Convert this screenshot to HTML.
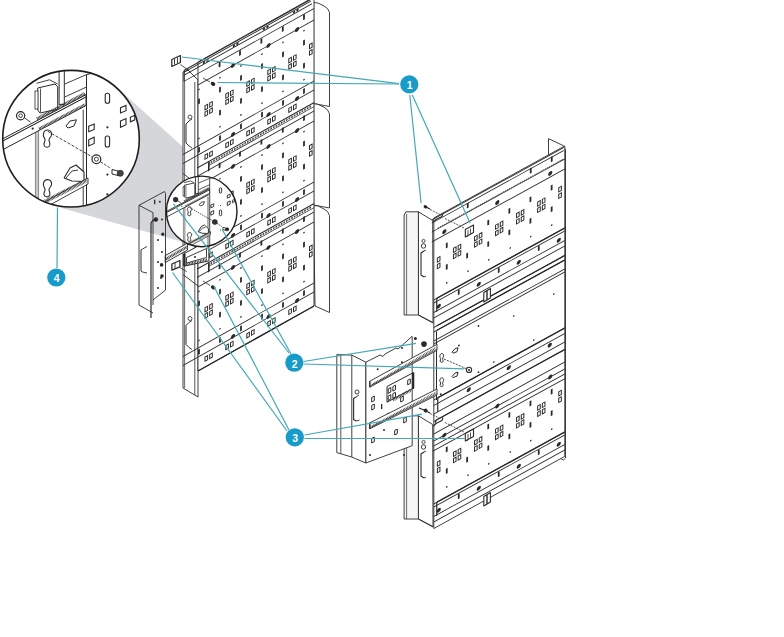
<!DOCTYPE html>
<html><head><meta charset="utf-8"><style>
html,body{margin:0;padding:0;background:#fff;}
body{width:784px;height:637px;overflow:hidden;}
svg{display:block;}
</style></head><body>
<svg width="784" height="637" viewBox="0 0 784 637">
<polygon points="117.1,87.7 225.4,185.0 192.6,244.7 52.4,205.4" fill="#d5d6da" stroke="none" stroke-width="0.9" stroke-linejoin="round" />
<polygon points="183.0,72.0 188.0,70.0 198.0,80.0 198.0,397.0 183.0,388.0" fill="#fff" stroke="#2a2a2a" stroke-width="0.9" stroke-linejoin="round" />
<line x1="194.8" y1="82.0" x2="194.8" y2="395.0" stroke="#2a2a2a" stroke-width="0.8" />
<line x1="184.6" y1="71.0" x2="184.6" y2="388.0" stroke="#2a2a2a" stroke-width="0.7" />
<line x1="183.0" y1="173.5" x2="198.0" y2="185.0" stroke="#2a2a2a" stroke-width="0.9" />
<line x1="183.0" y1="274.5" x2="198.0" y2="286.0" stroke="#2a2a2a" stroke-width="0.9" />
<polygon points="313.5,2.5 318.0,3.0 324.0,6.0 327.5,8.5 329.5,12.5 329.5,106.5 313.5,103.5" fill="#fff" stroke="#2a2a2a" stroke-width="0.9" stroke-linejoin="round" />
<polygon points="313.5,103.8 318.0,104.3 324.0,107.3 327.5,109.8 329.5,113.8 329.5,208.0 313.5,205.0" fill="#fff" stroke="#2a2a2a" stroke-width="0.9" stroke-linejoin="round" />
<polygon points="313.5,205.5 318.0,206.0 324.0,209.0 327.5,211.5 329.5,215.5 329.5,312.5 315.0,306.0" fill="#fff" stroke="#2a2a2a" stroke-width="0.9" stroke-linejoin="round" />
<line x1="313.5" y1="2.5" x2="313.5" y2="306.0" stroke="#2a2a2a" stroke-width="1.3" />
<polygon points="198.0,62.0 314.0,-3.0 314.0,306.0 198.0,371.0" fill="#fff" stroke="#2a2a2a" stroke-width="0.9" stroke-linejoin="round" />
<g transform="matrix(1,-0.5600,0,1,198.00,0)">
<line x1="-14.0" y1="62.5" x2="112.0" y2="62.5" stroke="#2a2a2a" stroke-width="1.2"/>
<line x1="-14.0" y1="64.3" x2="113.0" y2="64.3" stroke="#2a2a2a" stroke-width="1.0"/>
<line x1="-14.0" y1="67.5" x2="114.0" y2="67.5" stroke="#2a2a2a" stroke-width="1.0"/>
<line x1="-14.0" y1="73.5" x2="116.0" y2="73.5" stroke="#2a2a2a" stroke-width="0.9"/>
<polyline points="-14.0,62.5 -14.0,73.5" stroke="#2a2a2a" stroke-width="0.9" fill="none"/>
<circle cx="6.0" cy="65.9" r="1.2" fill="#2a2a2a"/>
<circle cx="9.5" cy="65.9" r="1.2" fill="#2a2a2a"/>
<circle cx="36.0" cy="65.9" r="1.2" fill="#2a2a2a"/>
<circle cx="39.5" cy="65.9" r="1.2" fill="#2a2a2a"/>
<circle cx="66.0" cy="65.9" r="1.2" fill="#2a2a2a"/>
<circle cx="69.5" cy="65.9" r="1.2" fill="#2a2a2a"/>
<circle cx="96.0" cy="65.9" r="1.2" fill="#2a2a2a"/>
<circle cx="99.5" cy="65.9" r="1.2" fill="#2a2a2a"/>
<rect x="20.7" y="73.9" width="1.8" height="5.2" fill="#2a2a2a"/>
<rect x="41.1" y="73.9" width="1.8" height="5.2" fill="#2a2a2a"/>
<rect x="62.5" y="73.9" width="1.8" height="5.2" fill="#2a2a2a"/>
<rect x="83.9" y="73.9" width="1.8" height="5.2" fill="#2a2a2a"/>
<rect x="105.1" y="73.9" width="1.8" height="5.2" fill="#2a2a2a"/>
<line x1="0.0" y1="85.0" x2="116.0" y2="85.0" stroke="#2a2a2a" stroke-width="0.95"/>
<circle cx="35.0" cy="85.0" r="2.1" fill="#2a2a2a"/>
<circle cx="70.5" cy="85.0" r="2.1" fill="#2a2a2a"/>
<circle cx="99.0" cy="85.0" r="2.1" fill="#2a2a2a"/>
<circle cx="1.0" cy="90.0" r="0.8" fill="#2a2a2a"/>
<circle cx="1.0" cy="139.0" r="0.8" fill="#2a2a2a"/>
<circle cx="22.0" cy="90.0" r="0.8" fill="#2a2a2a"/>
<circle cx="22.0" cy="139.0" r="0.8" fill="#2a2a2a"/>
<circle cx="43.0" cy="90.0" r="0.8" fill="#2a2a2a"/>
<circle cx="43.0" cy="139.0" r="0.8" fill="#2a2a2a"/>
<circle cx="64.0" cy="90.0" r="0.8" fill="#2a2a2a"/>
<circle cx="64.0" cy="139.0" r="0.8" fill="#2a2a2a"/>
<circle cx="85.0" cy="90.0" r="0.8" fill="#2a2a2a"/>
<circle cx="85.0" cy="139.0" r="0.8" fill="#2a2a2a"/>
<circle cx="106.0" cy="90.0" r="0.8" fill="#2a2a2a"/>
<circle cx="106.0" cy="139.0" r="0.8" fill="#2a2a2a"/>
<rect x="0.1" y="99.4" width="1.8" height="5.2" fill="#2a2a2a"/>
<rect x="21.1" y="99.4" width="1.8" height="5.2" fill="#2a2a2a"/>
<rect x="42.1" y="99.4" width="1.8" height="5.2" fill="#2a2a2a"/>
<rect x="63.1" y="99.4" width="1.8" height="5.2" fill="#2a2a2a"/>
<rect x="84.1" y="99.4" width="1.8" height="5.2" fill="#2a2a2a"/>
<rect x="105.1" y="99.4" width="1.8" height="5.2" fill="#2a2a2a"/>
<rect x="7.0" y="109.6" width="2.6" height="4.2" fill="none" stroke="#2a2a2a" stroke-width="1.0"/>
<rect x="7.0" y="115.9" width="2.6" height="4.2" fill="none" stroke="#2a2a2a" stroke-width="1.0"/>
<rect x="11.7" y="109.6" width="2.6" height="4.2" fill="none" stroke="#2a2a2a" stroke-width="1.0"/>
<rect x="11.7" y="115.9" width="2.6" height="4.2" fill="none" stroke="#2a2a2a" stroke-width="1.0"/>
<rect x="27.8" y="109.6" width="2.6" height="4.2" fill="none" stroke="#2a2a2a" stroke-width="1.0"/>
<rect x="27.8" y="115.9" width="2.6" height="4.2" fill="none" stroke="#2a2a2a" stroke-width="1.0"/>
<rect x="32.5" y="109.6" width="2.6" height="4.2" fill="none" stroke="#2a2a2a" stroke-width="1.0"/>
<rect x="32.5" y="115.9" width="2.6" height="4.2" fill="none" stroke="#2a2a2a" stroke-width="1.0"/>
<rect x="48.8" y="109.6" width="2.6" height="4.2" fill="none" stroke="#2a2a2a" stroke-width="1.0"/>
<rect x="48.8" y="115.9" width="2.6" height="4.2" fill="none" stroke="#2a2a2a" stroke-width="1.0"/>
<rect x="53.5" y="109.6" width="2.6" height="4.2" fill="none" stroke="#2a2a2a" stroke-width="1.0"/>
<rect x="53.5" y="115.9" width="2.6" height="4.2" fill="none" stroke="#2a2a2a" stroke-width="1.0"/>
<rect x="69.8" y="109.6" width="2.6" height="4.2" fill="none" stroke="#2a2a2a" stroke-width="1.0"/>
<rect x="69.8" y="115.9" width="2.6" height="4.2" fill="none" stroke="#2a2a2a" stroke-width="1.0"/>
<rect x="74.5" y="109.6" width="2.6" height="4.2" fill="none" stroke="#2a2a2a" stroke-width="1.0"/>
<rect x="74.5" y="115.9" width="2.6" height="4.2" fill="none" stroke="#2a2a2a" stroke-width="1.0"/>
<rect x="90.8" y="109.6" width="2.6" height="4.2" fill="none" stroke="#2a2a2a" stroke-width="1.0"/>
<rect x="90.8" y="115.9" width="2.6" height="4.2" fill="none" stroke="#2a2a2a" stroke-width="1.0"/>
<rect x="95.5" y="109.6" width="2.6" height="4.2" fill="none" stroke="#2a2a2a" stroke-width="1.0"/>
<rect x="95.5" y="115.9" width="2.6" height="4.2" fill="none" stroke="#2a2a2a" stroke-width="1.0"/>
<rect x="111.5" y="107.0" width="2.6" height="4.2" fill="none" stroke="#2a2a2a" stroke-width="1.0"/>
<rect x="111.5" y="113.5" width="2.6" height="4.2" fill="none" stroke="#2a2a2a" stroke-width="1.0"/>
<rect x="21.1" y="122.4" width="1.8" height="5.2" fill="#2a2a2a"/>
<rect x="42.1" y="122.4" width="1.8" height="5.2" fill="#2a2a2a"/>
<rect x="63.1" y="122.4" width="1.8" height="5.2" fill="#2a2a2a"/>
<rect x="84.1" y="122.4" width="1.8" height="5.2" fill="#2a2a2a"/>
<rect x="105.1" y="122.4" width="1.8" height="5.2" fill="#2a2a2a"/>
<line x1="-15.0" y1="146.0" x2="116.0" y2="146.0" stroke="#2a2a2a" stroke-width="0.95"/>
<line x1="-15.0" y1="155.0" x2="116.0" y2="155.0" stroke="#2a2a2a" stroke-width="0.95"/>
<circle cx="35.0" cy="154.0" r="2.1" fill="#2a2a2a"/>
<circle cx="70.5" cy="154.0" r="2.1" fill="#2a2a2a"/>
<circle cx="99.0" cy="154.0" r="2.1" fill="#2a2a2a"/>
<rect x="7.0" y="159.0" width="2.6" height="4.2" fill="none" stroke="#2a2a2a" stroke-width="1.0"/>
<rect x="11.7" y="159.0" width="2.6" height="4.2" fill="none" stroke="#2a2a2a" stroke-width="1.0"/>
<rect x="27.8" y="159.0" width="2.6" height="4.2" fill="none" stroke="#2a2a2a" stroke-width="1.0"/>
<rect x="32.5" y="159.0" width="2.6" height="4.2" fill="none" stroke="#2a2a2a" stroke-width="1.0"/>
<rect x="48.8" y="159.0" width="2.6" height="4.2" fill="none" stroke="#2a2a2a" stroke-width="1.0"/>
<rect x="53.5" y="159.0" width="2.6" height="4.2" fill="none" stroke="#2a2a2a" stroke-width="1.0"/>
<rect x="69.8" y="159.0" width="2.6" height="4.2" fill="none" stroke="#2a2a2a" stroke-width="1.0"/>
<rect x="74.5" y="159.0" width="2.6" height="4.2" fill="none" stroke="#2a2a2a" stroke-width="1.0"/>
<rect x="90.8" y="159.0" width="2.6" height="4.2" fill="none" stroke="#2a2a2a" stroke-width="1.0"/>
<rect x="95.5" y="159.0" width="2.6" height="4.2" fill="none" stroke="#2a2a2a" stroke-width="1.0"/>
<rect x="0.1" y="147.9" width="1.8" height="5.2" fill="#2a2a2a"/>
<rect x="21.1" y="147.9" width="1.8" height="5.2" fill="#2a2a2a"/>
<rect x="42.1" y="147.9" width="1.8" height="5.2" fill="#2a2a2a"/>
<rect x="63.1" y="147.9" width="1.8" height="5.2" fill="#2a2a2a"/>
<rect x="84.1" y="147.9" width="1.8" height="5.2" fill="#2a2a2a"/>
<rect x="105.1" y="147.9" width="1.8" height="5.2" fill="#2a2a2a"/>
<line x1="-1.0" y1="167.5" x2="116.0" y2="167.5" stroke="#2a2a2a" stroke-width="1.2"/>
<line x1="10.0" y1="171.5" x2="116.0" y2="171.5" stroke="#2a2a2a" stroke-width="0.8"/>
<line x1="10" y1="169.6" x2="114" y2="169.6" stroke="#444" stroke-width="1.8" stroke-dasharray="1.6,1.0"/>
<line x1="-1.0" y1="176.0" x2="116.0" y2="176.0" stroke="#2a2a2a" stroke-width="1.0"/>
<rect x="10.0" y="168.0" width="1.6" height="9.0" fill="#2a2a2a"/>
<rect x="20.7" y="174.9" width="1.8" height="5.2" fill="#2a2a2a"/>
<rect x="41.1" y="174.9" width="1.8" height="5.2" fill="#2a2a2a"/>
<rect x="62.5" y="174.9" width="1.8" height="5.2" fill="#2a2a2a"/>
<rect x="83.9" y="174.9" width="1.8" height="5.2" fill="#2a2a2a"/>
<rect x="105.1" y="174.9" width="1.8" height="5.2" fill="#2a2a2a"/>
<line x1="0.0" y1="186.0" x2="116.0" y2="186.0" stroke="#2a2a2a" stroke-width="0.95"/>
<circle cx="35.0" cy="186.0" r="2.1" fill="#2a2a2a"/>
<circle cx="70.5" cy="186.0" r="2.1" fill="#2a2a2a"/>
<circle cx="99.0" cy="186.0" r="2.1" fill="#2a2a2a"/>
<circle cx="1.0" cy="191.0" r="0.8" fill="#2a2a2a"/>
<circle cx="1.0" cy="240.0" r="0.8" fill="#2a2a2a"/>
<circle cx="22.0" cy="191.0" r="0.8" fill="#2a2a2a"/>
<circle cx="22.0" cy="240.0" r="0.8" fill="#2a2a2a"/>
<circle cx="43.0" cy="191.0" r="0.8" fill="#2a2a2a"/>
<circle cx="43.0" cy="240.0" r="0.8" fill="#2a2a2a"/>
<circle cx="64.0" cy="191.0" r="0.8" fill="#2a2a2a"/>
<circle cx="64.0" cy="240.0" r="0.8" fill="#2a2a2a"/>
<circle cx="85.0" cy="191.0" r="0.8" fill="#2a2a2a"/>
<circle cx="85.0" cy="240.0" r="0.8" fill="#2a2a2a"/>
<circle cx="106.0" cy="191.0" r="0.8" fill="#2a2a2a"/>
<circle cx="106.0" cy="240.0" r="0.8" fill="#2a2a2a"/>
<rect x="0.1" y="200.4" width="1.8" height="5.2" fill="#2a2a2a"/>
<rect x="21.1" y="200.4" width="1.8" height="5.2" fill="#2a2a2a"/>
<rect x="42.1" y="200.4" width="1.8" height="5.2" fill="#2a2a2a"/>
<rect x="63.1" y="200.4" width="1.8" height="5.2" fill="#2a2a2a"/>
<rect x="84.1" y="200.4" width="1.8" height="5.2" fill="#2a2a2a"/>
<rect x="105.1" y="200.4" width="1.8" height="5.2" fill="#2a2a2a"/>
<rect x="7.0" y="210.6" width="2.6" height="4.2" fill="none" stroke="#2a2a2a" stroke-width="1.0"/>
<rect x="7.0" y="216.9" width="2.6" height="4.2" fill="none" stroke="#2a2a2a" stroke-width="1.0"/>
<rect x="11.7" y="210.6" width="2.6" height="4.2" fill="none" stroke="#2a2a2a" stroke-width="1.0"/>
<rect x="11.7" y="216.9" width="2.6" height="4.2" fill="none" stroke="#2a2a2a" stroke-width="1.0"/>
<rect x="27.8" y="210.6" width="2.6" height="4.2" fill="none" stroke="#2a2a2a" stroke-width="1.0"/>
<rect x="27.8" y="216.9" width="2.6" height="4.2" fill="none" stroke="#2a2a2a" stroke-width="1.0"/>
<rect x="32.5" y="210.6" width="2.6" height="4.2" fill="none" stroke="#2a2a2a" stroke-width="1.0"/>
<rect x="32.5" y="216.9" width="2.6" height="4.2" fill="none" stroke="#2a2a2a" stroke-width="1.0"/>
<rect x="48.8" y="210.6" width="2.6" height="4.2" fill="none" stroke="#2a2a2a" stroke-width="1.0"/>
<rect x="48.8" y="216.9" width="2.6" height="4.2" fill="none" stroke="#2a2a2a" stroke-width="1.0"/>
<rect x="53.5" y="210.6" width="2.6" height="4.2" fill="none" stroke="#2a2a2a" stroke-width="1.0"/>
<rect x="53.5" y="216.9" width="2.6" height="4.2" fill="none" stroke="#2a2a2a" stroke-width="1.0"/>
<rect x="69.8" y="210.6" width="2.6" height="4.2" fill="none" stroke="#2a2a2a" stroke-width="1.0"/>
<rect x="69.8" y="216.9" width="2.6" height="4.2" fill="none" stroke="#2a2a2a" stroke-width="1.0"/>
<rect x="74.5" y="210.6" width="2.6" height="4.2" fill="none" stroke="#2a2a2a" stroke-width="1.0"/>
<rect x="74.5" y="216.9" width="2.6" height="4.2" fill="none" stroke="#2a2a2a" stroke-width="1.0"/>
<rect x="90.8" y="210.6" width="2.6" height="4.2" fill="none" stroke="#2a2a2a" stroke-width="1.0"/>
<rect x="90.8" y="216.9" width="2.6" height="4.2" fill="none" stroke="#2a2a2a" stroke-width="1.0"/>
<rect x="95.5" y="210.6" width="2.6" height="4.2" fill="none" stroke="#2a2a2a" stroke-width="1.0"/>
<rect x="95.5" y="216.9" width="2.6" height="4.2" fill="none" stroke="#2a2a2a" stroke-width="1.0"/>
<rect x="111.5" y="208.0" width="2.6" height="4.2" fill="none" stroke="#2a2a2a" stroke-width="1.0"/>
<rect x="111.5" y="214.5" width="2.6" height="4.2" fill="none" stroke="#2a2a2a" stroke-width="1.0"/>
<rect x="21.1" y="223.4" width="1.8" height="5.2" fill="#2a2a2a"/>
<rect x="42.1" y="223.4" width="1.8" height="5.2" fill="#2a2a2a"/>
<rect x="63.1" y="223.4" width="1.8" height="5.2" fill="#2a2a2a"/>
<rect x="84.1" y="223.4" width="1.8" height="5.2" fill="#2a2a2a"/>
<rect x="105.1" y="223.4" width="1.8" height="5.2" fill="#2a2a2a"/>
<line x1="-15.0" y1="247.0" x2="116.0" y2="247.0" stroke="#2a2a2a" stroke-width="0.95"/>
<line x1="-15.0" y1="256.0" x2="116.0" y2="256.0" stroke="#2a2a2a" stroke-width="0.95"/>
<circle cx="35.0" cy="255.0" r="2.1" fill="#2a2a2a"/>
<circle cx="70.5" cy="255.0" r="2.1" fill="#2a2a2a"/>
<circle cx="99.0" cy="255.0" r="2.1" fill="#2a2a2a"/>
<rect x="7.0" y="260.0" width="2.6" height="4.2" fill="none" stroke="#2a2a2a" stroke-width="1.0"/>
<rect x="11.7" y="260.0" width="2.6" height="4.2" fill="none" stroke="#2a2a2a" stroke-width="1.0"/>
<rect x="27.8" y="260.0" width="2.6" height="4.2" fill="none" stroke="#2a2a2a" stroke-width="1.0"/>
<rect x="32.5" y="260.0" width="2.6" height="4.2" fill="none" stroke="#2a2a2a" stroke-width="1.0"/>
<rect x="48.8" y="260.0" width="2.6" height="4.2" fill="none" stroke="#2a2a2a" stroke-width="1.0"/>
<rect x="53.5" y="260.0" width="2.6" height="4.2" fill="none" stroke="#2a2a2a" stroke-width="1.0"/>
<rect x="69.8" y="260.0" width="2.6" height="4.2" fill="none" stroke="#2a2a2a" stroke-width="1.0"/>
<rect x="74.5" y="260.0" width="2.6" height="4.2" fill="none" stroke="#2a2a2a" stroke-width="1.0"/>
<rect x="90.8" y="260.0" width="2.6" height="4.2" fill="none" stroke="#2a2a2a" stroke-width="1.0"/>
<rect x="95.5" y="260.0" width="2.6" height="4.2" fill="none" stroke="#2a2a2a" stroke-width="1.0"/>
<rect x="0.1" y="248.9" width="1.8" height="5.2" fill="#2a2a2a"/>
<rect x="21.1" y="248.9" width="1.8" height="5.2" fill="#2a2a2a"/>
<rect x="42.1" y="248.9" width="1.8" height="5.2" fill="#2a2a2a"/>
<rect x="63.1" y="248.9" width="1.8" height="5.2" fill="#2a2a2a"/>
<rect x="84.1" y="248.9" width="1.8" height="5.2" fill="#2a2a2a"/>
<rect x="105.1" y="248.9" width="1.8" height="5.2" fill="#2a2a2a"/>
<line x1="-1.0" y1="268.5" x2="116.0" y2="268.5" stroke="#2a2a2a" stroke-width="1.2"/>
<line x1="10.0" y1="272.5" x2="116.0" y2="272.5" stroke="#2a2a2a" stroke-width="0.8"/>
<line x1="10" y1="270.6" x2="114" y2="270.6" stroke="#444" stroke-width="1.8" stroke-dasharray="1.6,1.0"/>
<line x1="-1.0" y1="277.0" x2="116.0" y2="277.0" stroke="#2a2a2a" stroke-width="1.0"/>
<rect x="10.0" y="269.0" width="1.6" height="9.0" fill="#2a2a2a"/>
<rect x="20.7" y="275.9" width="1.8" height="5.2" fill="#2a2a2a"/>
<rect x="41.1" y="275.9" width="1.8" height="5.2" fill="#2a2a2a"/>
<rect x="62.5" y="275.9" width="1.8" height="5.2" fill="#2a2a2a"/>
<rect x="83.9" y="275.9" width="1.8" height="5.2" fill="#2a2a2a"/>
<rect x="105.1" y="275.9" width="1.8" height="5.2" fill="#2a2a2a"/>
<line x1="0.0" y1="287.0" x2="116.0" y2="287.0" stroke="#2a2a2a" stroke-width="0.95"/>
<circle cx="35.0" cy="287.0" r="2.1" fill="#2a2a2a"/>
<circle cx="70.5" cy="287.0" r="2.1" fill="#2a2a2a"/>
<circle cx="99.0" cy="287.0" r="2.1" fill="#2a2a2a"/>
<circle cx="1.0" cy="292.0" r="0.8" fill="#2a2a2a"/>
<circle cx="1.0" cy="341.0" r="0.8" fill="#2a2a2a"/>
<circle cx="22.0" cy="292.0" r="0.8" fill="#2a2a2a"/>
<circle cx="22.0" cy="341.0" r="0.8" fill="#2a2a2a"/>
<circle cx="43.0" cy="292.0" r="0.8" fill="#2a2a2a"/>
<circle cx="43.0" cy="341.0" r="0.8" fill="#2a2a2a"/>
<circle cx="64.0" cy="292.0" r="0.8" fill="#2a2a2a"/>
<circle cx="64.0" cy="341.0" r="0.8" fill="#2a2a2a"/>
<circle cx="85.0" cy="292.0" r="0.8" fill="#2a2a2a"/>
<circle cx="85.0" cy="341.0" r="0.8" fill="#2a2a2a"/>
<circle cx="106.0" cy="292.0" r="0.8" fill="#2a2a2a"/>
<circle cx="106.0" cy="341.0" r="0.8" fill="#2a2a2a"/>
<rect x="0.1" y="301.4" width="1.8" height="5.2" fill="#2a2a2a"/>
<rect x="21.1" y="301.4" width="1.8" height="5.2" fill="#2a2a2a"/>
<rect x="42.1" y="301.4" width="1.8" height="5.2" fill="#2a2a2a"/>
<rect x="63.1" y="301.4" width="1.8" height="5.2" fill="#2a2a2a"/>
<rect x="84.1" y="301.4" width="1.8" height="5.2" fill="#2a2a2a"/>
<rect x="105.1" y="301.4" width="1.8" height="5.2" fill="#2a2a2a"/>
<rect x="7.0" y="311.6" width="2.6" height="4.2" fill="none" stroke="#2a2a2a" stroke-width="1.0"/>
<rect x="7.0" y="317.9" width="2.6" height="4.2" fill="none" stroke="#2a2a2a" stroke-width="1.0"/>
<rect x="11.7" y="311.6" width="2.6" height="4.2" fill="none" stroke="#2a2a2a" stroke-width="1.0"/>
<rect x="11.7" y="317.9" width="2.6" height="4.2" fill="none" stroke="#2a2a2a" stroke-width="1.0"/>
<rect x="27.8" y="311.6" width="2.6" height="4.2" fill="none" stroke="#2a2a2a" stroke-width="1.0"/>
<rect x="27.8" y="317.9" width="2.6" height="4.2" fill="none" stroke="#2a2a2a" stroke-width="1.0"/>
<rect x="32.5" y="311.6" width="2.6" height="4.2" fill="none" stroke="#2a2a2a" stroke-width="1.0"/>
<rect x="32.5" y="317.9" width="2.6" height="4.2" fill="none" stroke="#2a2a2a" stroke-width="1.0"/>
<rect x="48.8" y="311.6" width="2.6" height="4.2" fill="none" stroke="#2a2a2a" stroke-width="1.0"/>
<rect x="48.8" y="317.9" width="2.6" height="4.2" fill="none" stroke="#2a2a2a" stroke-width="1.0"/>
<rect x="53.5" y="311.6" width="2.6" height="4.2" fill="none" stroke="#2a2a2a" stroke-width="1.0"/>
<rect x="53.5" y="317.9" width="2.6" height="4.2" fill="none" stroke="#2a2a2a" stroke-width="1.0"/>
<rect x="69.8" y="311.6" width="2.6" height="4.2" fill="none" stroke="#2a2a2a" stroke-width="1.0"/>
<rect x="69.8" y="317.9" width="2.6" height="4.2" fill="none" stroke="#2a2a2a" stroke-width="1.0"/>
<rect x="74.5" y="311.6" width="2.6" height="4.2" fill="none" stroke="#2a2a2a" stroke-width="1.0"/>
<rect x="74.5" y="317.9" width="2.6" height="4.2" fill="none" stroke="#2a2a2a" stroke-width="1.0"/>
<rect x="90.8" y="311.6" width="2.6" height="4.2" fill="none" stroke="#2a2a2a" stroke-width="1.0"/>
<rect x="90.8" y="317.9" width="2.6" height="4.2" fill="none" stroke="#2a2a2a" stroke-width="1.0"/>
<rect x="95.5" y="311.6" width="2.6" height="4.2" fill="none" stroke="#2a2a2a" stroke-width="1.0"/>
<rect x="95.5" y="317.9" width="2.6" height="4.2" fill="none" stroke="#2a2a2a" stroke-width="1.0"/>
<rect x="111.5" y="309.0" width="2.6" height="4.2" fill="none" stroke="#2a2a2a" stroke-width="1.0"/>
<rect x="111.5" y="315.5" width="2.6" height="4.2" fill="none" stroke="#2a2a2a" stroke-width="1.0"/>
<rect x="21.1" y="324.4" width="1.8" height="5.2" fill="#2a2a2a"/>
<rect x="42.1" y="324.4" width="1.8" height="5.2" fill="#2a2a2a"/>
<rect x="63.1" y="324.4" width="1.8" height="5.2" fill="#2a2a2a"/>
<rect x="84.1" y="324.4" width="1.8" height="5.2" fill="#2a2a2a"/>
<rect x="105.1" y="324.4" width="1.8" height="5.2" fill="#2a2a2a"/>
<line x1="-15.0" y1="348.0" x2="116.0" y2="348.0" stroke="#2a2a2a" stroke-width="0.95"/>
<line x1="-15.0" y1="357.0" x2="116.0" y2="357.0" stroke="#2a2a2a" stroke-width="0.95"/>
<circle cx="35.0" cy="356.0" r="2.1" fill="#2a2a2a"/>
<circle cx="70.5" cy="356.0" r="2.1" fill="#2a2a2a"/>
<circle cx="99.0" cy="356.0" r="2.1" fill="#2a2a2a"/>
<rect x="7.0" y="361.0" width="2.6" height="4.2" fill="none" stroke="#2a2a2a" stroke-width="1.0"/>
<rect x="11.7" y="361.0" width="2.6" height="4.2" fill="none" stroke="#2a2a2a" stroke-width="1.0"/>
<rect x="27.8" y="361.0" width="2.6" height="4.2" fill="none" stroke="#2a2a2a" stroke-width="1.0"/>
<rect x="32.5" y="361.0" width="2.6" height="4.2" fill="none" stroke="#2a2a2a" stroke-width="1.0"/>
<rect x="48.8" y="361.0" width="2.6" height="4.2" fill="none" stroke="#2a2a2a" stroke-width="1.0"/>
<rect x="53.5" y="361.0" width="2.6" height="4.2" fill="none" stroke="#2a2a2a" stroke-width="1.0"/>
<rect x="69.8" y="361.0" width="2.6" height="4.2" fill="none" stroke="#2a2a2a" stroke-width="1.0"/>
<rect x="74.5" y="361.0" width="2.6" height="4.2" fill="none" stroke="#2a2a2a" stroke-width="1.0"/>
<rect x="90.8" y="361.0" width="2.6" height="4.2" fill="none" stroke="#2a2a2a" stroke-width="1.0"/>
<rect x="95.5" y="361.0" width="2.6" height="4.2" fill="none" stroke="#2a2a2a" stroke-width="1.0"/>
<rect x="0.1" y="349.9" width="1.8" height="5.2" fill="#2a2a2a"/>
<rect x="21.1" y="349.9" width="1.8" height="5.2" fill="#2a2a2a"/>
<rect x="42.1" y="349.9" width="1.8" height="5.2" fill="#2a2a2a"/>
<rect x="63.1" y="349.9" width="1.8" height="5.2" fill="#2a2a2a"/>
<rect x="84.1" y="349.9" width="1.8" height="5.2" fill="#2a2a2a"/>
<rect x="105.1" y="349.9" width="1.8" height="5.2" fill="#2a2a2a"/>
</g>
<line x1="198.0" y1="371.0" x2="314.0" y2="306.0" stroke="#2a2a2a" stroke-width="1.4" />
<polyline points="189.0,121.0 186.0,124.0 186.0,143.0 189.0,146.0" fill="none" stroke="#2a2a2a" stroke-width="1.0" stroke-linejoin="round" />
<line x1="189.0" y1="121.0" x2="192.0" y2="119.0" stroke="#2a2a2a" stroke-width="0.9" />
<line x1="189.0" y1="146.0" x2="192.0" y2="148.0" stroke="#2a2a2a" stroke-width="0.9" />
<circle cx="190" cy="117" r="2" fill="none" stroke="#2a2a2a" stroke-width="0.8"/>
<polyline points="189.0,322.5 186.0,325.5 186.0,344.5 189.0,347.5" fill="none" stroke="#2a2a2a" stroke-width="1.0" stroke-linejoin="round" />
<line x1="189.0" y1="322.5" x2="192.0" y2="320.5" stroke="#2a2a2a" stroke-width="0.9" />
<line x1="189.0" y1="347.5" x2="192.0" y2="349.5" stroke="#2a2a2a" stroke-width="0.9" />
<circle cx="190" cy="318.5" r="2" fill="none" stroke="#2a2a2a" stroke-width="0.8"/>
<polygon points="171.8,59.5 180.4,55.5 180.4,62.5 171.8,66.5" fill="#fff" stroke="#2a2a2a" stroke-width="1.2" stroke-linejoin="round" />
<line x1="174.5" y1="59.0" x2="174.5" y2="64.5" stroke="#2a2a2a" stroke-width="0.9" />
<line x1="177.5" y1="57.5" x2="177.5" y2="63.0" stroke="#2a2a2a" stroke-width="0.9" />
<line x1="180.4" y1="64.5" x2="189.0" y2="70.6" stroke="#2a2a2a" stroke-width="0.8" />
<ellipse cx="213" cy="83.8" rx="2.4" ry="1.9" fill="#222" transform="rotate(30 213 83.8)"/>
<line x1="203.0" y1="78.0" x2="210.0" y2="82.0" stroke="#2a2a2a" stroke-width="0.8" />
<polygon points="165.2,255.6 187.5,243.1 187.5,250.1 165.2,262.6" fill="#eee" stroke="#2a2a2a" stroke-width="0.9" stroke-linejoin="round" />
<line x1="166" y1="259.1" x2="187" y2="246.9" stroke="#333" stroke-width="2.6" stroke-dasharray="0.9,0.7"/>
<polygon points="183.9,253.8 199.1,245.4 208.9,240.5 208.9,260.9 183.9,266.2" fill="#fff" stroke="#2a2a2a" stroke-width="1.0" stroke-linejoin="round" />
<line x1="184.5" y1="254.0" x2="184.5" y2="266.0" stroke="#2a2a2a" stroke-width="2.2" />
<line x1="186" y1="264.5" x2="207" y2="259.5" stroke="#333" stroke-width="2.4" stroke-dasharray="0.9,0.7"/>
<polygon points="186.5,257.5 206.5,248.5 206.5,257.5 186.5,263.0" fill="#fff" stroke="#2a2a2a" stroke-width="0.9" stroke-linejoin="round" />
<circle cx="195.0" cy="257.0" r="1.0" fill="#2a2a2a"/>
<polygon points="171.9,264.0 179.9,260.5 179.9,266.8 171.9,270.2" fill="#fff" stroke="#2a2a2a" stroke-width="1.3" stroke-linejoin="round" />
<line x1="175.0" y1="263.0" x2="175.0" y2="268.5" stroke="#2a2a2a" stroke-width="0.9" />
<line x1="179.9" y1="267.5" x2="186.6" y2="271.6" stroke="#2a2a2a" stroke-width="0.8" />
<circle cx="161.6" cy="264.9" r="1.8" fill="#2a2a2a"/>
<ellipse cx="213.2" cy="287.3" rx="2.4" ry="1.9" fill="#222" transform="rotate(30 213.2 287.3)"/>
<line x1="203.0" y1="281.0" x2="210.0" y2="285.5" stroke="#2a2a2a" stroke-width="0.8" />
<polygon points="418.4,211.8 432.7,220.5 433.0,323.0 418.4,315.0" fill="#fff" stroke="#2a2a2a" stroke-width="0.9" stroke-linejoin="round" />
<polygon points="404.1,215.0 406.0,211.8 418.4,211.8 418.4,315.0 404.1,315.0" fill="#f7f7f7" stroke="#2a2a2a" stroke-width="0.9" stroke-linejoin="round" />
<line x1="406.6" y1="214.0" x2="406.6" y2="315.0" stroke="#2a2a2a" stroke-width="0.7" />
<polyline points="418.4,315.0 433.0,322.5" fill="none" stroke="#2a2a2a" stroke-width="0.9" stroke-linejoin="round" />
<polygon points="418.4,415.8 432.7,424.5 433.0,527.0 418.4,519.0" fill="#fff" stroke="#2a2a2a" stroke-width="0.9" stroke-linejoin="round" />
<polygon points="404.1,419.0 406.0,415.8 418.4,415.8 418.4,519.0 404.1,519.0" fill="#f7f7f7" stroke="#2a2a2a" stroke-width="0.9" stroke-linejoin="round" />
<line x1="406.6" y1="418.0" x2="406.6" y2="519.0" stroke="#2a2a2a" stroke-width="0.7" />
<polyline points="418.4,519.0 433.0,526.5" fill="none" stroke="#2a2a2a" stroke-width="0.9" stroke-linejoin="round" />
<polygon points="548.5,138.6 563.4,145.7 565.5,150.0 565.5,458.0 563.4,460.0 548.5,452.0" fill="#fff" stroke="#2a2a2a" stroke-width="0.9" stroke-linejoin="round" />
<polygon points="433.8,218.0 564.8,145.9 564.8,456.4 433.8,528.5" fill="#fff" stroke="#2a2a2a" stroke-width="0.9" stroke-linejoin="round" />
<g transform="matrix(1,-0.5500,0,1,433.75,0)">
<line x1="-2.0" y1="219.0" x2="130.0" y2="219.0" stroke="#2a2a2a" stroke-width="1.0"/>
<line x1="-2.0" y1="222.0" x2="130.0" y2="222.0" stroke="#2a2a2a" stroke-width="0.9"/>
<line x1="-2.0" y1="231.0" x2="131.0" y2="231.0" stroke="#2a2a2a" stroke-width="0.9"/>
<line x1="-2.0" y1="241.0" x2="131.0" y2="241.0" stroke="#2a2a2a" stroke-width="1.0"/>
<rect x="33.1" y="221.4" width="1.8" height="5.2" fill="#2a2a2a"/>
<rect x="96.1" y="221.4" width="1.8" height="5.2" fill="#2a2a2a"/>
<rect x="117.1" y="221.4" width="1.8" height="5.2" fill="#2a2a2a"/>
<circle cx="10.6" cy="237.5" r="2.1" fill="#2a2a2a"/>
<circle cx="63.5" cy="237.5" r="2.1" fill="#2a2a2a"/>
<circle cx="116.5" cy="237.5" r="2.1" fill="#2a2a2a"/>
<rect x="12.1" y="249.9" width="1.8" height="5.2" fill="#2a2a2a"/>
<rect x="12.1" y="271.4" width="1.8" height="5.2" fill="#2a2a2a"/>
<rect x="32.5" y="249.9" width="1.8" height="5.2" fill="#2a2a2a"/>
<rect x="32.5" y="271.4" width="1.8" height="5.2" fill="#2a2a2a"/>
<rect x="53.6" y="249.9" width="1.8" height="5.2" fill="#2a2a2a"/>
<rect x="53.6" y="271.4" width="1.8" height="5.2" fill="#2a2a2a"/>
<rect x="74.7" y="249.9" width="1.8" height="5.2" fill="#2a2a2a"/>
<rect x="74.7" y="271.4" width="1.8" height="5.2" fill="#2a2a2a"/>
<rect x="95.8" y="249.9" width="1.8" height="5.2" fill="#2a2a2a"/>
<rect x="95.8" y="271.4" width="1.8" height="5.2" fill="#2a2a2a"/>
<rect x="117.0" y="249.9" width="1.8" height="5.2" fill="#2a2a2a"/>
<rect x="117.0" y="271.4" width="1.8" height="5.2" fill="#2a2a2a"/>
<rect x="19.7" y="259.1" width="2.6" height="4.2" fill="none" stroke="#2a2a2a" stroke-width="1.0"/>
<rect x="19.7" y="265.4" width="2.6" height="4.2" fill="none" stroke="#2a2a2a" stroke-width="1.0"/>
<rect x="24.4" y="259.1" width="2.6" height="4.2" fill="none" stroke="#2a2a2a" stroke-width="1.0"/>
<rect x="24.4" y="265.4" width="2.6" height="4.2" fill="none" stroke="#2a2a2a" stroke-width="1.0"/>
<rect x="40.8" y="259.1" width="2.6" height="4.2" fill="none" stroke="#2a2a2a" stroke-width="1.0"/>
<rect x="40.8" y="265.4" width="2.6" height="4.2" fill="none" stroke="#2a2a2a" stroke-width="1.0"/>
<rect x="45.5" y="259.1" width="2.6" height="4.2" fill="none" stroke="#2a2a2a" stroke-width="1.0"/>
<rect x="45.5" y="265.4" width="2.6" height="4.2" fill="none" stroke="#2a2a2a" stroke-width="1.0"/>
<rect x="61.8" y="259.1" width="2.6" height="4.2" fill="none" stroke="#2a2a2a" stroke-width="1.0"/>
<rect x="61.8" y="265.4" width="2.6" height="4.2" fill="none" stroke="#2a2a2a" stroke-width="1.0"/>
<rect x="66.5" y="259.1" width="2.6" height="4.2" fill="none" stroke="#2a2a2a" stroke-width="1.0"/>
<rect x="66.5" y="265.4" width="2.6" height="4.2" fill="none" stroke="#2a2a2a" stroke-width="1.0"/>
<rect x="82.8" y="259.1" width="2.6" height="4.2" fill="none" stroke="#2a2a2a" stroke-width="1.0"/>
<rect x="82.8" y="265.4" width="2.6" height="4.2" fill="none" stroke="#2a2a2a" stroke-width="1.0"/>
<rect x="87.5" y="259.1" width="2.6" height="4.2" fill="none" stroke="#2a2a2a" stroke-width="1.0"/>
<rect x="87.5" y="265.4" width="2.6" height="4.2" fill="none" stroke="#2a2a2a" stroke-width="1.0"/>
<rect x="103.9" y="259.1" width="2.6" height="4.2" fill="none" stroke="#2a2a2a" stroke-width="1.0"/>
<rect x="103.9" y="265.4" width="2.6" height="4.2" fill="none" stroke="#2a2a2a" stroke-width="1.0"/>
<rect x="108.6" y="259.1" width="2.6" height="4.2" fill="none" stroke="#2a2a2a" stroke-width="1.0"/>
<rect x="108.6" y="265.4" width="2.6" height="4.2" fill="none" stroke="#2a2a2a" stroke-width="1.0"/>
<rect x="125.0" y="256.5" width="2.6" height="4.2" fill="none" stroke="#2a2a2a" stroke-width="1.0"/>
<rect x="125.0" y="263.0" width="2.6" height="4.2" fill="none" stroke="#2a2a2a" stroke-width="1.0"/>
<rect x="3.6" y="260.0" width="2.6" height="4.2" fill="none" stroke="#2a2a2a" stroke-width="1.0"/>
<rect x="3.6" y="266.5" width="2.6" height="4.2" fill="none" stroke="#2a2a2a" stroke-width="1.0"/>
<circle cx="13.0" cy="290.0" r="0.8" fill="#2a2a2a"/>
<circle cx="34.3" cy="290.0" r="0.8" fill="#2a2a2a"/>
<circle cx="55.0" cy="290.0" r="0.8" fill="#2a2a2a"/>
<circle cx="76.5" cy="290.0" r="0.8" fill="#2a2a2a"/>
<circle cx="97.0" cy="290.0" r="0.8" fill="#2a2a2a"/>
<circle cx="118.0" cy="290.0" r="0.8" fill="#2a2a2a"/>
<line x1="0.0" y1="300.0" x2="131.0" y2="300.0" stroke="#2a2a2a" stroke-width="1.1"/>
<line x1="0.0" y1="303.0" x2="131.0" y2="303.0" stroke="#2a2a2a" stroke-width="0.9"/>
<line x1="0.0" y1="312.5" x2="131.0" y2="312.5" stroke="#2a2a2a" stroke-width="0.9"/>
<line x1="0.0" y1="318.0" x2="131.0" y2="318.0" stroke="#2a2a2a" stroke-width="1.0"/>
<circle cx="5.0" cy="309.0" r="2.1" fill="#2a2a2a"/>
<circle cx="45.0" cy="309.0" r="2.1" fill="#2a2a2a"/>
<circle cx="85.0" cy="309.0" r="2.1" fill="#2a2a2a"/>
<circle cx="125.0" cy="309.0" r="2.1" fill="#2a2a2a"/>
<rect x="24.1" y="303.4" width="1.8" height="5.2" fill="#2a2a2a"/>
<rect x="64.1" y="303.4" width="1.8" height="5.2" fill="#2a2a2a"/>
<rect x="104.1" y="303.4" width="1.8" height="5.2" fill="#2a2a2a"/>
<rect x="12.1" y="453.9" width="1.8" height="5.2" fill="#2a2a2a"/>
<rect x="12.1" y="475.4" width="1.8" height="5.2" fill="#2a2a2a"/>
<rect x="32.5" y="453.9" width="1.8" height="5.2" fill="#2a2a2a"/>
<rect x="32.5" y="475.4" width="1.8" height="5.2" fill="#2a2a2a"/>
<rect x="53.6" y="453.9" width="1.8" height="5.2" fill="#2a2a2a"/>
<rect x="53.6" y="475.4" width="1.8" height="5.2" fill="#2a2a2a"/>
<rect x="74.7" y="453.9" width="1.8" height="5.2" fill="#2a2a2a"/>
<rect x="74.7" y="475.4" width="1.8" height="5.2" fill="#2a2a2a"/>
<rect x="95.8" y="453.9" width="1.8" height="5.2" fill="#2a2a2a"/>
<rect x="95.8" y="475.4" width="1.8" height="5.2" fill="#2a2a2a"/>
<rect x="117.0" y="453.9" width="1.8" height="5.2" fill="#2a2a2a"/>
<rect x="117.0" y="475.4" width="1.8" height="5.2" fill="#2a2a2a"/>
<rect x="19.7" y="463.1" width="2.6" height="4.2" fill="none" stroke="#2a2a2a" stroke-width="1.0"/>
<rect x="19.7" y="469.4" width="2.6" height="4.2" fill="none" stroke="#2a2a2a" stroke-width="1.0"/>
<rect x="24.4" y="463.1" width="2.6" height="4.2" fill="none" stroke="#2a2a2a" stroke-width="1.0"/>
<rect x="24.4" y="469.4" width="2.6" height="4.2" fill="none" stroke="#2a2a2a" stroke-width="1.0"/>
<rect x="40.8" y="463.1" width="2.6" height="4.2" fill="none" stroke="#2a2a2a" stroke-width="1.0"/>
<rect x="40.8" y="469.4" width="2.6" height="4.2" fill="none" stroke="#2a2a2a" stroke-width="1.0"/>
<rect x="45.5" y="463.1" width="2.6" height="4.2" fill="none" stroke="#2a2a2a" stroke-width="1.0"/>
<rect x="45.5" y="469.4" width="2.6" height="4.2" fill="none" stroke="#2a2a2a" stroke-width="1.0"/>
<rect x="61.8" y="463.1" width="2.6" height="4.2" fill="none" stroke="#2a2a2a" stroke-width="1.0"/>
<rect x="61.8" y="469.4" width="2.6" height="4.2" fill="none" stroke="#2a2a2a" stroke-width="1.0"/>
<rect x="66.5" y="463.1" width="2.6" height="4.2" fill="none" stroke="#2a2a2a" stroke-width="1.0"/>
<rect x="66.5" y="469.4" width="2.6" height="4.2" fill="none" stroke="#2a2a2a" stroke-width="1.0"/>
<rect x="82.8" y="463.1" width="2.6" height="4.2" fill="none" stroke="#2a2a2a" stroke-width="1.0"/>
<rect x="82.8" y="469.4" width="2.6" height="4.2" fill="none" stroke="#2a2a2a" stroke-width="1.0"/>
<rect x="87.5" y="463.1" width="2.6" height="4.2" fill="none" stroke="#2a2a2a" stroke-width="1.0"/>
<rect x="87.5" y="469.4" width="2.6" height="4.2" fill="none" stroke="#2a2a2a" stroke-width="1.0"/>
<rect x="103.9" y="463.1" width="2.6" height="4.2" fill="none" stroke="#2a2a2a" stroke-width="1.0"/>
<rect x="103.9" y="469.4" width="2.6" height="4.2" fill="none" stroke="#2a2a2a" stroke-width="1.0"/>
<rect x="108.6" y="463.1" width="2.6" height="4.2" fill="none" stroke="#2a2a2a" stroke-width="1.0"/>
<rect x="108.6" y="469.4" width="2.6" height="4.2" fill="none" stroke="#2a2a2a" stroke-width="1.0"/>
<rect x="125.0" y="460.5" width="2.6" height="4.2" fill="none" stroke="#2a2a2a" stroke-width="1.0"/>
<rect x="125.0" y="467.0" width="2.6" height="4.2" fill="none" stroke="#2a2a2a" stroke-width="1.0"/>
<rect x="3.6" y="464.0" width="2.6" height="4.2" fill="none" stroke="#2a2a2a" stroke-width="1.0"/>
<rect x="3.6" y="470.5" width="2.6" height="4.2" fill="none" stroke="#2a2a2a" stroke-width="1.0"/>
<circle cx="13.0" cy="494.0" r="0.8" fill="#2a2a2a"/>
<circle cx="34.3" cy="494.0" r="0.8" fill="#2a2a2a"/>
<circle cx="55.0" cy="494.0" r="0.8" fill="#2a2a2a"/>
<circle cx="76.5" cy="494.0" r="0.8" fill="#2a2a2a"/>
<circle cx="97.0" cy="494.0" r="0.8" fill="#2a2a2a"/>
<circle cx="118.0" cy="494.0" r="0.8" fill="#2a2a2a"/>
<line x1="0.0" y1="504.0" x2="131.0" y2="504.0" stroke="#2a2a2a" stroke-width="1.1"/>
<line x1="0.0" y1="507.0" x2="131.0" y2="507.0" stroke="#2a2a2a" stroke-width="0.9"/>
<line x1="0.0" y1="516.5" x2="131.0" y2="516.5" stroke="#2a2a2a" stroke-width="0.9"/>
<line x1="0.0" y1="522.0" x2="131.0" y2="522.0" stroke="#2a2a2a" stroke-width="1.0"/>
<circle cx="5.0" cy="513.0" r="2.1" fill="#2a2a2a"/>
<circle cx="45.0" cy="513.0" r="2.1" fill="#2a2a2a"/>
<circle cx="85.0" cy="513.0" r="2.1" fill="#2a2a2a"/>
<circle cx="125.0" cy="513.0" r="2.1" fill="#2a2a2a"/>
<rect x="24.1" y="507.4" width="1.8" height="5.2" fill="#2a2a2a"/>
<rect x="64.1" y="507.4" width="1.8" height="5.2" fill="#2a2a2a"/>
<rect x="104.1" y="507.4" width="1.8" height="5.2" fill="#2a2a2a"/>
<line x1="0.0" y1="327.5" x2="131.0" y2="327.5" stroke="#2a2a2a" stroke-width="0.9"/>
<line x1="0.0" y1="332.0" x2="131.0" y2="332.0" stroke="#2a2a2a" stroke-width="1.1"/>
<line x1="0.0" y1="341.0" x2="131.0" y2="341.0" stroke="#2a2a2a" stroke-width="0.9"/>
<line x1="0.0" y1="344.0" x2="131.0" y2="344.0" stroke="#2a2a2a" stroke-width="1.0"/>
<circle cx="80.0" cy="360.0" r="0.8" fill="#2a2a2a"/>
<circle cx="60.0" cy="395.0" r="0.8" fill="#2a2a2a"/>
<circle cx="120.0" cy="360.0" r="0.8" fill="#2a2a2a"/>
<circle cx="100.0" cy="395.0" r="0.8" fill="#2a2a2a"/>
<line x1="0.0" y1="400.0" x2="131.0" y2="400.0" stroke="#2a2a2a" stroke-width="1.1"/>
<line x1="0.0" y1="405.5" x2="131.0" y2="405.5" stroke="#2a2a2a" stroke-width="0.9"/>
<line x1="0.0" y1="414.0" x2="131.0" y2="414.0" stroke="#2a2a2a" stroke-width="1.0"/>
<circle cx="35.0" cy="409.0" r="2.1" fill="#2a2a2a"/>
<circle cx="75.0" cy="409.0" r="2.1" fill="#2a2a2a"/>
<circle cx="116.0" cy="409.0" r="2.1" fill="#2a2a2a"/>
<line x1="0.0" y1="421.5" x2="131.0" y2="421.5" stroke="#2a2a2a" stroke-width="0.9"/>
<line x1="0.0" y1="434.0" x2="131.0" y2="434.0" stroke="#2a2a2a" stroke-width="1.0"/>
<line x1="0.0" y1="441.0" x2="131.0" y2="441.0" stroke="#2a2a2a" stroke-width="0.9"/>
<line x1="0.0" y1="446.0" x2="131.0" y2="446.0" stroke="#2a2a2a" stroke-width="1.0"/>
<circle cx="10.5" cy="441.0" r="2.1" fill="#2a2a2a"/>
<circle cx="63.5" cy="441.0" r="2.1" fill="#2a2a2a"/>
<circle cx="116.5" cy="441.0" r="2.1" fill="#2a2a2a"/>
<line x1="-1.0" y1="450.7" x2="131.0" y2="450.7" stroke="#2a2a2a" stroke-width="1.0"/>
<line x1="4.0" y1="230.5" x2="130.0" y2="230.5" stroke="#555" stroke-width="1.4" stroke-dasharray="1.3,0.8"/>
<line x1="3.0" y1="300.0" x2="131.0" y2="300.0" stroke="#2a2a2a" stroke-width="1.5"/>
<line x1="3.0" y1="300.0" x2="3.0" y2="313.4" stroke="#2a2a2a" stroke-width="1.2"/>
<line x1="3.0" y1="504.0" x2="131.0" y2="504.0" stroke="#2a2a2a" stroke-width="1.5"/>
<line x1="3.0" y1="504.0" x2="3.0" y2="517.4" stroke="#2a2a2a" stroke-width="1.2"/>
<line x1="3.0" y1="327.5" x2="131.0" y2="327.5" stroke="#2a2a2a" stroke-width="1.4"/>
<line x1="3.0" y1="332.0" x2="131.0" y2="332.0" stroke="#2a2a2a" stroke-width="1.4"/>
<line x1="4.0" y1="400.0" x2="131.0" y2="400.0" stroke="#2a2a2a" stroke-width="1.5"/>
<line x1="2.0" y1="421.5" x2="131.0" y2="421.5" stroke="#2a2a2a" stroke-width="1.4"/>
<line x1="4.0" y1="400.0" x2="4.0" y2="414.0" stroke="#2a2a2a" stroke-width="1.2"/>
<line x1="2.0" y1="421.5" x2="2.0" y2="424.0" stroke="#2a2a2a" stroke-width="1.2"/>
<rect x="52.0" y="286.5" width="0.0" height="0.0" fill="#2a2a2a"/>
</g>
<polygon points="483.8,292.5 490.4,288.5 490.4,298.0 483.8,302.0" fill="#fff" stroke="#2a2a2a" stroke-width="1.1" stroke-linejoin="round" />
<line x1="487.0" y1="291.0" x2="487.0" y2="300.0" stroke="#2a2a2a" stroke-width="1.4" />
<polygon points="483.8,496.5 490.4,492.5 490.4,502.0 483.8,506.0" fill="#fff" stroke="#2a2a2a" stroke-width="1.1" stroke-linejoin="round" />
<line x1="487.0" y1="495.0" x2="487.0" y2="504.0" stroke="#2a2a2a" stroke-width="1.4" />
<ellipse cx="425.5" cy="206.8" rx="2" ry="1.6" fill="#222" transform="rotate(30 425.5 206.8)"/>
<line x1="427.0" y1="207.5" x2="430.0" y2="209.0" stroke="#2a2a2a" stroke-width="1.3" />
<polyline points="430,209.5 440.0,214.5" fill="none" stroke="#2a2a2a" stroke-width="0.8" stroke-dasharray="2,1.2"/>
<polyline points="445,218.5 465,228.5" fill="none" stroke="#2a2a2a" stroke-width="0.8" stroke-dasharray="2,1.2"/>
<polygon points="465.3,229.5 473.5,225.0 473.5,232.5 465.3,237.0" fill="#fff" stroke="#2a2a2a" stroke-width="1.1" stroke-linejoin="round" />
<line x1="468.0" y1="230.0" x2="468.0" y2="235.0" stroke="#2a2a2a" stroke-width="0.8" />
<line x1="470.5" y1="228.5" x2="470.5" y2="233.8" stroke="#2a2a2a" stroke-width="0.8" />
<polyline points="433.5,222.0 436.0,219.5 442.0,216.5 443.0,213.5" fill="none" stroke="#2a2a2a" stroke-width="1.1" stroke-linejoin="round" />
<ellipse cx="425.5" cy="410.8" rx="2" ry="1.6" fill="#222" transform="rotate(30 425.5 410.8)"/>
<line x1="427.0" y1="411.5" x2="430.0" y2="413.0" stroke="#2a2a2a" stroke-width="1.3" />
<polyline points="430,413.5 440.0,418.5" fill="none" stroke="#2a2a2a" stroke-width="0.8" stroke-dasharray="2,1.2"/>
<polyline points="445,422.5 465,432.5" fill="none" stroke="#2a2a2a" stroke-width="0.8" stroke-dasharray="2,1.2"/>
<polygon points="465.3,433.5 473.5,429.0 473.5,436.5 465.3,441.0" fill="#fff" stroke="#2a2a2a" stroke-width="1.1" stroke-linejoin="round" />
<line x1="468.0" y1="434.0" x2="468.0" y2="439.0" stroke="#2a2a2a" stroke-width="0.8" />
<line x1="470.5" y1="432.5" x2="470.5" y2="437.8" stroke="#2a2a2a" stroke-width="0.8" />
<polyline points="433.5,426.0 436.0,423.5 442.0,420.5 443.0,417.5" fill="none" stroke="#2a2a2a" stroke-width="1.1" stroke-linejoin="round" />
<path d="M441.6,353.5 c1.6,0 2.2,1.3 2,2.6 c-0.2,1.2 -1,1.6 -1,2.6 c0,1.2 0.9,1.8 0.3,3 c-0.6,1 -2.4,0.8 -2.7,-0.4 c-0.3,-1.2 0.6,-1.8 0.5,-2.7 c-0.2,-1 -1.2,-1.5 -0.8,-3 c0.3,-1 1,-2.1 1.7,-2.1 z" fill="#fff" stroke="#2a2a2a" stroke-width="1.0"/>
<path d="M441.6,377.8 c1.6,0 2.2,1.3 2,2.6 c-0.2,1.2 -1,1.6 -1,2.6 c0,1.2 0.9,1.8 0.3,3 c-0.6,1 -2.4,0.8 -2.7,-0.4 c-0.3,-1.2 0.6,-1.8 0.5,-2.7 c-0.2,-1 -1.2,-1.5 -0.8,-3 c0.3,-1 1,-2.1 1.7,-2.1 z" fill="#fff" stroke="#2a2a2a" stroke-width="1.0"/>
<polyline points="452.0,352.2 455.0,348.7 458.0,347.7 457.0,351.7 453.0,353.2 452.0,352.2" fill="none" stroke="#2a2a2a" stroke-width="1.0" stroke-linejoin="round" />
<polyline points="452.0,376.6 455.0,373.1 458.0,372.1 457.0,376.1 453.0,377.6 452.0,376.6" fill="none" stroke="#2a2a2a" stroke-width="1.0" stroke-linejoin="round" />
<circle cx="469" cy="369.9" r="2.6" fill="#fff" stroke="#2a2a2a" stroke-width="1.1"/>
<circle cx="469.0" cy="369.9" r="1.0" fill="#2a2a2a"/>
<polyline points="444,359 466,368.5" fill="none" stroke="#2a2a2a" stroke-width="0.9" stroke-dasharray="2,1.2"/>
<circle cx="478.5" cy="326.0" r="0.9" fill="#2a2a2a"/>
<circle cx="458.9" cy="345.5" r="0.9" fill="#2a2a2a"/>
<circle cx="478.5" cy="372.2" r="0.9" fill="#2a2a2a"/>
<circle cx="440.8" cy="394.2" r="0.9" fill="#2a2a2a"/>
<line x1="436.5" y1="331.4" x2="436.5" y2="400.0" stroke="#2a2a2a" stroke-width="1.0" />
<polyline points="424.0,251.0 421.0,253.0 421.0,275.0 424.0,277.0" fill="none" stroke="#2a2a2a" stroke-width="1.1" stroke-linejoin="round" />
<line x1="424.0" y1="251.0" x2="426.0" y2="250.0" stroke="#2a2a2a" stroke-width="0.9" />
<line x1="424.0" y1="277.0" x2="426.0" y2="276.0" stroke="#2a2a2a" stroke-width="0.9" />
<circle cx="423.5" cy="246" r="2.2" fill="none" stroke="#2a2a2a" stroke-width="0.9"/>
<circle cx="423.5" cy="241" r="1.6" fill="none" stroke="#2a2a2a" stroke-width="0.8"/>
<polyline points="424.0,452.0 421.0,454.0 421.0,476.0 424.0,478.0" fill="none" stroke="#2a2a2a" stroke-width="1.1" stroke-linejoin="round" />
<line x1="424.0" y1="452.0" x2="426.0" y2="451.0" stroke="#2a2a2a" stroke-width="0.9" />
<line x1="424.0" y1="478.0" x2="426.0" y2="477.0" stroke="#2a2a2a" stroke-width="0.9" />
<circle cx="423.5" cy="447" r="2.2" fill="none" stroke="#2a2a2a" stroke-width="0.9"/>
<circle cx="423.5" cy="442" r="1.6" fill="none" stroke="#2a2a2a" stroke-width="0.8"/>
<polyline points="153.0,305.0 153.0,212.6 139.0,205.3 139.0,305.0 153.0,313.0" fill="none" stroke="#2a2a2a" stroke-width="0.9" stroke-linejoin="round" />
<polyline points="139.0,205.3 164.5,191.5 165.5,193.5 165.5,290.0 153.0,300.0" fill="none" stroke="#2a2a2a" stroke-width="0.9" stroke-linejoin="round" />
<polyline points="151.0,318.0 151.0,223.0 153.0,220.0 156.0,221.0" fill="none" stroke="#2a2a2a" stroke-width="1.2" stroke-linejoin="round" />
<polyline points="142.5,249.0 141.0,250.0 141.0,271.0 142.5,272.0" fill="none" stroke="#2a2a2a" stroke-width="1.0" stroke-linejoin="round" />
<line x1="142.5" y1="249.0" x2="147.0" y2="246.5" stroke="#2a2a2a" stroke-width="0.9" />
<line x1="142.5" y1="272.0" x2="147.0" y2="273.0" stroke="#2a2a2a" stroke-width="0.9" />
<circle cx="159.8" cy="201.8" r="1.0" fill="#2a2a2a"/>
<circle cx="162.0" cy="219.5" r="1.0" fill="#2a2a2a"/>
<circle cx="158.0" cy="240.0" r="1.0" fill="#2a2a2a"/>
<circle cx="162.0" cy="252.0" r="1.0" fill="#2a2a2a"/>
<circle cx="158.0" cy="262.0" r="1.0" fill="#2a2a2a"/>
<circle cx="161.0" cy="278.0" r="1.0" fill="#2a2a2a"/>
<circle cx="158.0" cy="288.0" r="1.0" fill="#2a2a2a"/>
<circle cx="155.9" cy="219.5" r="2.2" fill="#2a2a2a"/>
<circle cx="162.8" cy="234.2" r="1.6" fill="#2a2a2a"/>
<circle cx="162.0" cy="276.0" r="1.8" fill="#2a2a2a"/>
<rect x="154.0" y="199.7" width="1.3" height="4.5" fill="#2a2a2a"/>
<polygon points="336.8,354.6 351.8,355.1 365.9,362.2 365.9,463.0 351.6,457.0 336.8,452.6" fill="#fff" stroke="#2a2a2a" stroke-width="0.9" stroke-linejoin="round" />
<line x1="340.8" y1="355.0" x2="340.8" y2="453.8" stroke="#2a2a2a" stroke-width="0.8" />
<line x1="351.8" y1="355.1" x2="351.8" y2="457.0" stroke="#2a2a2a" stroke-width="0.9" />
<polygon points="365.9,362.2 380.0,355.0 383.0,356.5 385.0,354.0 396.0,348.0 398.0,349.0 412.2,336.3 412.2,445.7 365.9,463.0" fill="#fff" stroke="#2a2a2a" stroke-width="0.9" stroke-linejoin="round" />
<polyline points="356.0,397.0 353.6,398.5 353.6,419.5 356.0,421.0" fill="none" stroke="#2a2a2a" stroke-width="1.1" stroke-linejoin="round" />
<line x1="356.0" y1="397.0" x2="359.0" y2="395.0" stroke="#2a2a2a" stroke-width="0.9" />
<line x1="356.0" y1="421.0" x2="359.5" y2="420.0" stroke="#2a2a2a" stroke-width="0.9" />
<circle cx="357" cy="392" r="2" fill="none" stroke="#2a2a2a" stroke-width="0.9"/>
<polygon points="387.0,386.5 413.8,372.4 413.8,388.0 387.0,402.2" fill="none" stroke="#2a2a2a" stroke-width="1.0" stroke-linejoin="round" />
<line x1="413.0" y1="373.0" x2="413.0" y2="389.0" stroke="#2a2a2a" stroke-width="2.0" />
<polyline points="393,400 411,390" stroke="#333" stroke-width="3" stroke-dasharray="0.8,0.8" fill="none"/>
<polygon points="388.2,388.9 390.8,387.5 390.8,392.0 388.2,393.4" fill="none" stroke="#2a2a2a" stroke-width="1.0"/>
<polygon points="392.9,386.6 395.5,385.2 395.5,389.7 392.9,391.1" fill="none" stroke="#2a2a2a" stroke-width="1.0"/>
<polygon points="388.2,396.0 390.8,394.6 390.8,399.1 388.2,400.5" fill="none" stroke="#2a2a2a" stroke-width="1.0"/>
<polygon points="392.9,393.7 395.5,392.3 395.5,396.8 392.9,398.2" fill="none" stroke="#2a2a2a" stroke-width="1.0"/>
<polygon points="371.7,397.5 374.3,396.1 374.3,400.6 371.7,402.0" fill="none" stroke="#2a2a2a" stroke-width="1.0"/>
<polygon points="371.7,405.5 374.3,404.1 374.3,408.6 371.7,410.0" fill="none" stroke="#2a2a2a" stroke-width="1.0"/>
<polygon points="400.7,397.5 403.3,396.1 403.3,400.6 400.7,402.0" fill="none" stroke="#2a2a2a" stroke-width="1.0"/>
<polygon points="407.7,380.3 410.3,378.9 410.3,383.4 407.7,384.8" fill="none" stroke="#2a2a2a" stroke-width="1.0"/>
<polygon points="371.7,438.5 374.3,437.1 374.3,441.6 371.7,443.0" fill="none" stroke="#2a2a2a" stroke-width="1.0"/>
<polygon points="394.7,430.5 397.3,429.1 397.3,433.6 394.7,435.0" fill="none" stroke="#2a2a2a" stroke-width="1.0"/>
<polygon points="403.7,418.5 406.3,417.1 406.3,421.6 403.7,423.0" fill="none" stroke="#2a2a2a" stroke-width="1.0"/>
<rect x="381.0" y="404.0" width="1.3" height="5.0" fill="#2a2a2a"/>
<circle cx="377.7" cy="369.2" r="1.0" fill="#2a2a2a"/>
<circle cx="402.0" cy="348.0" r="1.0" fill="#2a2a2a"/>
<circle cx="402.0" cy="362.2" r="1.0" fill="#2a2a2a"/>
<circle cx="384.0" cy="430.0" r="1.0" fill="#2a2a2a"/>
<circle cx="370.0" cy="455.0" r="1.0" fill="#2a2a2a"/>
<circle cx="404.0" cy="455.0" r="1.0" fill="#2a2a2a"/>
<circle cx="388.7" cy="414.8" r="2.1" fill="#2a2a2a"/>
<polygon points="369.8,381.2 437.0,344.3 437.0,350.3 369.8,387.2" fill="#fff" stroke="#2a2a2a" stroke-width="0.9" stroke-linejoin="round" />
<line x1="369.8" y1="381.2" x2="369.8" y2="387.2" stroke="#2a2a2a" stroke-width="1.2" />
<polyline points="372,384.7 436,347.8" stroke="#444" stroke-width="2" stroke-dasharray="0.8,0.8" fill="none"/>
<line x1="370.0" y1="386.0" x2="437.0" y2="349.1" stroke="#2a2a2a" stroke-width="0.7" />
<polygon points="369.8,422.8 437.0,389.0 437.0,395.0 369.8,428.8" fill="#fff" stroke="#2a2a2a" stroke-width="0.9" stroke-linejoin="round" />
<line x1="369.8" y1="422.8" x2="369.8" y2="428.8" stroke="#2a2a2a" stroke-width="1.2" />
<polyline points="372,426.3 436,392.5" stroke="#444" stroke-width="2" stroke-dasharray="0.8,0.8" fill="none"/>
<line x1="370.0" y1="427.6" x2="437.0" y2="393.8" stroke="#2a2a2a" stroke-width="0.7" />
<circle cx="424.0" cy="344.1" r="2.8" fill="#2a2a2a"/>
<circle cx="415.4" cy="338.6" r="1.5" fill="#2a2a2a"/>
<circle cx="425.7" cy="410.4" r="1.8" fill="#2a2a2a"/>
<line x1="419.0" y1="408.0" x2="424.0" y2="410.0" stroke="#2a2a2a" stroke-width="1.2" />
<defs><clipPath id="cb"><circle cx="71" cy="138.7" r="68.3"/></clipPath></defs>
<g id="mag" clip-path="url(#cb)">
<circle cx="71" cy="138.7" r="68.3" fill="#fff"/>
<polygon points="86.5,74.6 150.0,60.0 150.0,220.0 86.5,220.0" fill="#fff" stroke="#2a2a2a" stroke-width="1.0" stroke-linejoin="round" />
<line x1="83.2" y1="109.8" x2="83.2" y2="210.0" stroke="#2a2a2a" stroke-width="0.9" />
<rect x="105.2" y="93.3" width="4.4" height="9.9" rx="2" fill="none" stroke="#2a2a2a" stroke-width="1.1"/>
<rect x="105.2" y="136" width="4.4" height="11" rx="2" fill="none" stroke="#2a2a2a" stroke-width="1.1"/>
<polygon points="120.5,107.7 126.0,105.4 126.0,110.7 120.5,113.0" fill="none" stroke="#2a2a2a" stroke-width="1.1"/>
<polygon points="120.5,121.1 126.0,118.5 126.0,124.7 120.5,127.3" fill="none" stroke="#2a2a2a" stroke-width="1.1"/>
<polygon points="130.4,117.2 134.8,115.3 134.8,119.8 130.4,121.8" fill="none" stroke="#2a2a2a" stroke-width="1.1"/>
<polygon points="88.7,126.3 94.2,124.0 94.2,129.4 88.7,131.7" fill="none" stroke="#2a2a2a" stroke-width="1.1"/>
<polygon points="88.7,139.8 94.2,137.2 94.2,143.4 88.7,146.0" fill="none" stroke="#2a2a2a" stroke-width="1.1"/>
<circle cx="107.4" cy="127.3" r="1.1" fill="#2a2a2a"/>
<circle cx="107.4" cy="174.6" r="1.1" fill="#2a2a2a"/>
<circle cx="107.4" cy="194.4" r="1.1" fill="#2a2a2a"/>
<rect x="35.3" y="128" width="3.4" height="70" fill="#c8c8c8" stroke="#666" stroke-width="0.7"/>
<rect x="59.1" y="60" width="5.2" height="44.4" fill="#fff" stroke="#2a2a2a" stroke-width="1.0"/>
<polyline points="64.8,84.0 86.5,74.6" fill="none" stroke="#2a2a2a" stroke-width="0.9" stroke-linejoin="round" />
<polyline points="64.8,97.0 86.5,87.0" fill="none" stroke="#2a2a2a" stroke-width="0.9" stroke-linejoin="round" />
<polygon points="37.7,88.0 55.0,84.0 57.7,86.8 57.7,109.2 40.0,113.0 37.7,110.0" fill="#fff" stroke="#2a2a2a" stroke-width="1.0" stroke-linejoin="round" />
<polyline points="36.5,83.3 49.5,79.8 57.7,84.0" fill="none" stroke="#2a2a2a" stroke-width="0.9" stroke-linejoin="round" />
<polyline points="40.5,88.5 40.5,112.0" fill="none" stroke="#2a2a2a" stroke-width="0.8" stroke-linejoin="round" />
<rect x="35" y="91" width="3" height="18" fill="#fff" stroke="#2a2a2a" stroke-width="0.8"/>
<polygon points="-5.0,142.9 86.0,94.7 86.0,97.0 -5.0,145.2" fill="#fff" stroke="#2a2a2a" stroke-width="1.0" stroke-linejoin="round" />
<polygon points="-5.0,145.2 86.0,97.0 86.0,105.6 -5.0,153.8" fill="#fff" stroke="#2a2a2a" stroke-width="1.0" stroke-linejoin="round" />
<polyline points="37,118.9 85,93.5" stroke="#2a2a2a" stroke-width="3.2" stroke-dasharray="0.8,0.6" fill="none"/>
<polyline points="39,128.8 85,104.5" stroke="#2a2a2a" stroke-width="2.4" stroke-dasharray="0.8,0.6" fill="none"/>
<circle cx="32.7" cy="128.6" r="1.1" fill="#2a2a2a"/>
<circle cx="20.6" cy="115.7" r="4.1" fill="#fff" stroke="#2a2a2a" stroke-width="1.2"/>
<circle cx="20.6" cy="115.7" r="1.8" fill="none" stroke="#2a2a2a" stroke-width="0.9"/>
<line x1="24.7" y1="118.0" x2="30.6" y2="122.2" stroke="#2a2a2a" stroke-width="0.9" />
<path d="M47.5,130.0 c3,0 4.5,2.5 4,5 c-0.5,2.5 -2.5,3 -2.5,5 c0,2.5 2,3.5 0.5,6 c-1.5,2 -5,1.5 -5.5,-1 c-0.5,-2.5 1.5,-3.5 1,-5.5 c-0.5,-2 -2.5,-3 -1.5,-6 c0.5,-2 2,-3.5 4,-3.5 z" fill="#fff" stroke="#2a2a2a" stroke-width="1.1"/>
<path d="M47.5,179.6 c3,0 4.5,2.5 4,5 c-0.5,2.5 -2.5,3 -2.5,5 c0,2.5 2,3.5 0.5,6 c-1.5,2 -5,1.5 -5.5,-1 c-0.5,-2.5 1.5,-3.5 1,-5.5 c-0.5,-2 -2.5,-3 -1.5,-6 c0.5,-2 2,-3.5 4,-3.5 z" fill="#fff" stroke="#2a2a2a" stroke-width="1.1"/>
<polyline points="66.0,126.0 70.0,121.0 76.5,119.8 74.0,126.0 68.0,128.0 66.0,126.0" fill="none" stroke="#2a2a2a" stroke-width="1.0" stroke-linejoin="round" />
<polyline points="64.0,178.0 70.0,168.0 76.0,165.0 84.0,172.0 84.0,181.5 72.0,181.0 64.0,178.0" fill="#fff" stroke="#2a2a2a" stroke-width="1.1" stroke-linejoin="round" />
<polyline points="66.0,178.0 72.0,171.0 78.0,170.0" fill="none" stroke="#2a2a2a" stroke-width="0.9" stroke-linejoin="round" />
<polygon points="30.0,210.0 88.0,178.0 88.0,184.0 30.0,216.0" fill="#fff" stroke="#2a2a2a" stroke-width="0.9" stroke-linejoin="round" />
<polyline points="44,202 86.7,180.3" stroke="#333" stroke-width="4" stroke-dasharray="0.7,0.7" fill="none"/>
<circle cx="96.4" cy="159.2" r="4.4" fill="#fff" stroke="#2a2a2a" stroke-width="1.2"/>
<circle cx="96.4" cy="159.2" r="2" fill="none" stroke="#2a2a2a" stroke-width="0.9"/>
<polygon points="112,169.5 118,171 118,175.5 112,174" fill="#fff" stroke="#2a2a2a" stroke-width="1.0"/>
<circle cx="120.3" cy="173.3" r="3" fill="#444" stroke="#2a2a2a" stroke-width="0.8"/>
<polyline points="47.7,131.3 92,156.8" fill="none" stroke="#2a2a2a" stroke-width="0.9" stroke-dasharray="3,1.6"/>
<polyline points="100.8,162 111,168.5" fill="none" stroke="#2a2a2a" stroke-width="0.9" stroke-dasharray="2.5,1.5"/>
</g>
<circle cx="71" cy="138.7" r="68.3" fill="none" stroke="#1e1e1e" stroke-width="1.6"/>
<circle cx="201.7" cy="211.4" r="35.3" fill="#fff"/>
<defs><clipPath id="cs"><circle cx="71" cy="138.7" r="68.3"/></clipPath></defs>
<g transform="translate(201.7,211.4) scale(0.517) translate(-71,-138.7)"><g clip-path="url(#cs)">
<circle cx="71" cy="138.7" r="68.3" fill="#fff"/>
<polygon points="86.5,74.6 150.0,60.0 150.0,220.0 86.5,220.0" fill="#fff" stroke="#2a2a2a" stroke-width="1.65" stroke-linejoin="round" />
<line x1="83.2" y1="109.8" x2="83.2" y2="210.0" stroke="#2a2a2a" stroke-width="1.48" />
<rect x="105.2" y="93.3" width="4.4" height="9.9" rx="2" fill="none" stroke="#2a2a2a" stroke-width="1.81"/>
<rect x="105.2" y="136" width="4.4" height="11" rx="2" fill="none" stroke="#2a2a2a" stroke-width="1.81"/>
<polygon points="120.5,107.7 126.0,105.4 126.0,110.7 120.5,113.0" fill="none" stroke="#2a2a2a" stroke-width="1.81"/>
<polygon points="120.5,121.1 126.0,118.5 126.0,124.7 120.5,127.3" fill="none" stroke="#2a2a2a" stroke-width="1.81"/>
<polygon points="130.4,117.2 134.8,115.3 134.8,119.8 130.4,121.8" fill="none" stroke="#2a2a2a" stroke-width="1.81"/>
<polygon points="88.7,126.3 94.2,124.0 94.2,129.4 88.7,131.7" fill="none" stroke="#2a2a2a" stroke-width="1.81"/>
<polygon points="88.7,139.8 94.2,137.2 94.2,143.4 88.7,146.0" fill="none" stroke="#2a2a2a" stroke-width="1.81"/>
<circle cx="107.4" cy="127.3" r="1.1" fill="#2a2a2a"/>
<circle cx="107.4" cy="174.6" r="1.1" fill="#2a2a2a"/>
<circle cx="107.4" cy="194.4" r="1.1" fill="#2a2a2a"/>
<rect x="35.3" y="128" width="3.4" height="70" fill="#c8c8c8" stroke="#666" stroke-width="1.15"/>
<rect x="59.1" y="60" width="5.2" height="44.4" fill="#fff" stroke="#2a2a2a" stroke-width="1.65"/>
<polyline points="64.8,84.0 86.5,74.6" fill="none" stroke="#2a2a2a" stroke-width="1.48" stroke-linejoin="round" />
<polyline points="64.8,97.0 86.5,87.0" fill="none" stroke="#2a2a2a" stroke-width="1.48" stroke-linejoin="round" />
<polygon points="37.7,88.0 55.0,84.0 57.7,86.8 57.7,109.2 40.0,113.0 37.7,110.0" fill="#fff" stroke="#2a2a2a" stroke-width="1.65" stroke-linejoin="round" />
<polyline points="36.5,83.3 49.5,79.8 57.7,84.0" fill="none" stroke="#2a2a2a" stroke-width="1.48" stroke-linejoin="round" />
<polyline points="40.5,88.5 40.5,112.0" fill="none" stroke="#2a2a2a" stroke-width="1.32" stroke-linejoin="round" />
<rect x="35" y="91" width="3" height="18" fill="#fff" stroke="#2a2a2a" stroke-width="1.32"/>
<polygon points="-5.0,142.9 86.0,94.7 86.0,97.0 -5.0,145.2" fill="#fff" stroke="#2a2a2a" stroke-width="1.65" stroke-linejoin="round" />
<polygon points="-5.0,145.2 86.0,97.0 86.0,105.6 -5.0,153.8" fill="#fff" stroke="#2a2a2a" stroke-width="1.65" stroke-linejoin="round" />
<polyline points="37,118.9 85,93.5" stroke="#2a2a2a" stroke-width="4.00" stroke-dasharray="0.8,0.6" fill="none"/>
<polyline points="39,128.8 85,104.5" stroke="#2a2a2a" stroke-width="3.00" stroke-dasharray="0.8,0.6" fill="none"/>
<circle cx="32.7" cy="128.6" r="1.1" fill="#2a2a2a"/>
<circle cx="20.6" cy="115.7" r="4.1" fill="#3a3a3a" stroke="#2a2a2a" stroke-width="1.98"/>
<circle cx="20.6" cy="115.7" r="1.8" fill="none" stroke="#2a2a2a" stroke-width="1.48"/>
<line x1="24.7" y1="118.0" x2="30.6" y2="122.2" stroke="#2a2a2a" stroke-width="1.48" />
<path d="M47.5,130.0 c3,0 4.5,2.5 4,5 c-0.5,2.5 -2.5,3 -2.5,5 c0,2.5 2,3.5 0.5,6 c-1.5,2 -5,1.5 -5.5,-1 c-0.5,-2.5 1.5,-3.5 1,-5.5 c-0.5,-2 -2.5,-3 -1.5,-6 c0.5,-2 2,-3.5 4,-3.5 z" fill="#fff" stroke="#2a2a2a" stroke-width="1.81"/>
<path d="M47.5,179.6 c3,0 4.5,2.5 4,5 c-0.5,2.5 -2.5,3 -2.5,5 c0,2.5 2,3.5 0.5,6 c-1.5,2 -5,1.5 -5.5,-1 c-0.5,-2.5 1.5,-3.5 1,-5.5 c-0.5,-2 -2.5,-3 -1.5,-6 c0.5,-2 2,-3.5 4,-3.5 z" fill="#fff" stroke="#2a2a2a" stroke-width="1.81"/>
<polyline points="66.0,126.0 70.0,121.0 76.5,119.8 74.0,126.0 68.0,128.0 66.0,126.0" fill="none" stroke="#2a2a2a" stroke-width="1.65" stroke-linejoin="round" />
<polyline points="64.0,178.0 70.0,168.0 76.0,165.0 84.0,172.0 84.0,181.5 72.0,181.0 64.0,178.0" fill="#fff" stroke="#2a2a2a" stroke-width="1.81" stroke-linejoin="round" />
<polyline points="66.0,178.0 72.0,171.0 78.0,170.0" fill="none" stroke="#2a2a2a" stroke-width="1.48" stroke-linejoin="round" />
<polygon points="30.0,210.0 88.0,178.0 88.0,184.0 30.0,216.0" fill="#fff" stroke="#2a2a2a" stroke-width="1.48" stroke-linejoin="round" />
<polyline points="44,202 86.7,180.3" stroke="#333" stroke-width="5.00" stroke-dasharray="0.7,0.7" fill="none"/>
<circle cx="96.4" cy="159.2" r="4.4" fill="#3a3a3a" stroke="#2a2a2a" stroke-width="1.98"/>
<circle cx="96.4" cy="159.2" r="2" fill="none" stroke="#2a2a2a" stroke-width="1.48"/>
<polygon points="112,169.5 118,171 118,175.5 112,174" fill="#fff" stroke="#2a2a2a" stroke-width="1.65"/>
<circle cx="120.3" cy="173.3" r="3" fill="#222" stroke="#2a2a2a" stroke-width="1.32"/>
<polyline points="47.7,131.3 92,156.8" fill="none" stroke="#2a2a2a" stroke-width="1.48" stroke-dasharray="3,1.6"/>
<polyline points="100.8,162 111,168.5" fill="none" stroke="#2a2a2a" stroke-width="1.48" stroke-dasharray="2.5,1.5"/>
</g></g>
<circle cx="201.7" cy="211.4" r="35.3" fill="none" stroke="#1e1e1e" stroke-width="1.4"/>
<line x1="181.8" y1="57.0" x2="399.0" y2="83.6" stroke="#44a7b7" stroke-width="1.2" />
<line x1="217.6" y1="82.5" x2="399.0" y2="84.0" stroke="#44a7b7" stroke-width="1.2" />
<line x1="409.8" y1="95.0" x2="421.1" y2="203.0" stroke="#44a7b7" stroke-width="1.2" />
<line x1="412.3" y1="95.0" x2="470.1" y2="223.0" stroke="#44a7b7" stroke-width="1.2" />
<line x1="289.0" y1="353.0" x2="173.4" y2="203.9" stroke="#44a7b7" stroke-width="1.2" />
<line x1="291.0" y1="354.0" x2="222.1" y2="229.3" stroke="#44a7b7" stroke-width="1.2" />
<line x1="303.5" y1="361.5" x2="416.0" y2="343.3" stroke="#44a7b7" stroke-width="1.2" />
<line x1="303.5" y1="364.0" x2="464.5" y2="368.8" stroke="#44a7b7" stroke-width="1.2" />
<line x1="287.0" y1="431.0" x2="172.5" y2="272.5" stroke="#44a7b7" stroke-width="1.2" />
<line x1="289.0" y1="430.0" x2="213.8" y2="286.2" stroke="#44a7b7" stroke-width="1.2" />
<line x1="304.5" y1="435.0" x2="422.1" y2="414.2" stroke="#44a7b7" stroke-width="1.2" />
<line x1="304.5" y1="438.5" x2="464.5" y2="438.5" stroke="#44a7b7" stroke-width="1.2" />
<line x1="57.5" y1="207.5" x2="57.0" y2="268.0" stroke="#44a7b7" stroke-width="1.2" />
<circle cx="409.3" cy="84.4" r="9.1" fill="#189bc8"/>
<text x="409.6" y="89.2" font-family="Liberation Sans, sans-serif" font-weight="bold" font-size="10.5" fill="#fff" text-anchor="middle">1</text>
<circle cx="294.3" cy="362.7" r="9.1" fill="#189bc8"/>
<text x="294.6" y="367.5" font-family="Liberation Sans, sans-serif" font-weight="bold" font-size="10.5" fill="#fff" text-anchor="middle">2</text>
<circle cx="294.8" cy="437.3" r="9.1" fill="#189bc8"/>
<text x="295.1" y="442.1" font-family="Liberation Sans, sans-serif" font-weight="bold" font-size="10.5" fill="#fff" text-anchor="middle">3</text>
<circle cx="56.3" cy="277.5" r="9.1" fill="#189bc8"/>
<text x="56.6" y="282.3" font-family="Liberation Sans, sans-serif" font-weight="bold" font-size="10.5" fill="#fff" text-anchor="middle">4</text>
</svg>
</body></html>
